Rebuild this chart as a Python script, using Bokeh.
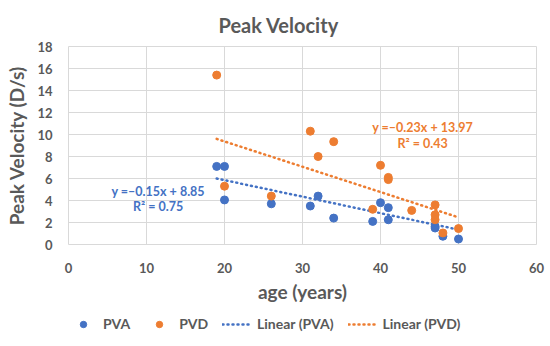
from bokeh.plotting import figure
from bokeh.layouts import column
from bokeh.models import (Range1d, FixedTicker, Legend, LegendItem, Label, Title)
from bokeh.embed import file_html
from bokeh.resources import INLINE

# ---- data ----
pva_age = [19, 20, 20, 26, 31, 32, 34, 39, 40, 41, 41, 47, 47, 48, 50]
pva_vel = [7.1, 7.1, 4.05, 3.7, 3.5, 4.4, 2.4, 2.1, 3.8, 3.35, 2.25, 1.65, 1.5, 0.75, 0.5]
pvd_age = [19, 20, 26, 31, 32, 34, 39, 40, 41, 41, 44, 47, 47, 47, 48, 50]
pvd_vel = [15.4, 5.3, 4.4, 10.3, 8.0, 9.35, 3.2, 7.2, 6.1, 5.9, 3.1, 3.6, 2.7, 2.25, 1.05, 1.45]
pva_slope, pva_intercept, pva_r2 = -0.15, 8.85, 0.75
pvd_slope, pvd_intercept, pvd_r2 = -0.23, 13.97, 0.43
x_ticks = [0, 10, 20, 30, 40, 50, 60]
y_ticks = [0, 2, 4, 6, 8, 10, 12, 14, 16, 18]

BLUE = "#4472C4"
ORANGE = "#ED7D31"
GREY = "#595959"
GRID = "#d9d9d9"
FONT = "Lato"

p = figure(width=550, height=306, output_backend="svg", toolbar_location=None,
           x_range=Range1d(0, 60), y_range=Range1d(0, 18),
           min_border_left=68, min_border_right=14, min_border_top=45, min_border_bottom=62)
p.title = Title(text="Peak  Velocity", align="left", offset=150, text_font=FONT,
                text_font_size="20px", text_font_style="bold", text_color=GREY, standoff=20)
p.outline_line_color = GRID
p.background_fill_color = "white"
p.border_fill_color = "white"

for ax in (p.xaxis[0], p.yaxis[0]):
    ax.axis_line_color = None
    ax.major_tick_line_color = None
    ax.minor_tick_line_color = None
    ax.major_label_text_font = FONT
    ax.major_label_text_font_size = "13px"
    ax.major_label_text_color = GREY
    ax.major_label_text_font_style = "bold"
    ax.axis_label_text_font = FONT
    ax.axis_label_text_font_size = "19px"
    ax.axis_label_text_font_style = "bold"
    ax.axis_label_text_color = GREY
p.xaxis.ticker = FixedTicker(ticks=x_ticks)
p.yaxis.ticker = FixedTicker(ticks=y_ticks)
p.xaxis.axis_label = "age (years)"
p.yaxis.axis_label = "Peak Velocity (D/s)"
p.xaxis.major_label_standoff = 12
p.yaxis.major_label_standoff = 10
p.xaxis.axis_label_standoff = 4
p.yaxis.axis_label_standoff = 6
p.xgrid.grid_line_color = GRID
p.ygrid.grid_line_color = GRID

# trend lines from the shown equations
def trend(xs, m, b):
    x0, x1 = min(xs), max(xs)
    return [x0, x1], [m * x0 + b, m * x1 + b]

line_kw = dict(line_width=2.5, line_dash="1 4", line_cap="round")
tx, ty = trend(pva_age, pva_slope, pva_intercept)
p.line(tx, ty, line_color=BLUE, **line_kw)
tx, ty = trend(pvd_age, pvd_slope, pvd_intercept)
p.line(tx, ty, line_color=ORANGE, **line_kw)

p.scatter(pva_age, pva_vel, size=8, color=BLUE)
p.scatter(pvd_age, pvd_vel, size=8, color=ORANGE)

def eq(m, b):
    return "y =\u2013%.2fx + %.2f" % (abs(m), b)

for (txt, x, y, c) in [
    (eq(pva_slope, pva_intercept), 11.5, 4.8, BLUE),
    ("R\u00b2 = %.2f" % pva_r2, 11.5, 3.44, BLUE),
    (eq(pvd_slope, pvd_intercept), 45.4, 10.6, ORANGE),
    ("R\u00b2 = %.2f" % pvd_r2, 45.4, 9.14, ORANGE),
]:
    p.add_layout(Label(x=x, y=y, text=txt, text_color=c, text_font=FONT,
                       text_font_size="12.5px", text_font_style="bold",
                       text_align="center", text_baseline="middle"))

# ---- legend strip below the chart (its glyphs use the same data, kept out of view) ----
lg = figure(width=550, height=40, output_backend="svg", toolbar_location=None,
            x_axis_type=None, y_axis_type=None, x_range=Range1d(0, 1), y_range=Range1d(0, 1),
            min_border=0, min_border_left=0, min_border_right=0,
            min_border_top=0, min_border_bottom=0, outline_line_color=None)
lg.grid.visible = False
g_pva = lg.scatter(pva_age, pva_vel, size=8, color=BLUE)
g_pvd = lg.scatter(pvd_age, pvd_vel, size=8, color=ORANGE)
tx, ty = trend(pva_age, pva_slope, pva_intercept)
g_lva = lg.line(tx, ty, line_color=BLUE, **line_kw)
tx, ty = trend(pvd_age, pvd_slope, pvd_intercept)
g_lvd = lg.line(tx, ty, line_color=ORANGE, **line_kw)
legend = Legend(items=[
    LegendItem(label="PVA", renderers=[g_pva]),
    LegendItem(label="PVD", renderers=[g_pvd]),
    LegendItem(label="Linear (PVA)", renderers=[g_lva]),
    LegendItem(label="Linear (PVD)", renderers=[g_lvd]),
], orientation="horizontal", location=(0, 14), border_line_color=None,
   background_fill_alpha=0, label_text_font=FONT, label_text_font_size="14px",
   label_text_color=GREY, label_text_font_style="bold", glyph_width=30,
   glyph_height=16, label_height=16, spacing=14,
   label_standoff=5, padding=2, margin=0)
lg.add_layout(legend, "center")

open("out.html", "w").write(file_html(column(p, lg, spacing=0), INLINE))
